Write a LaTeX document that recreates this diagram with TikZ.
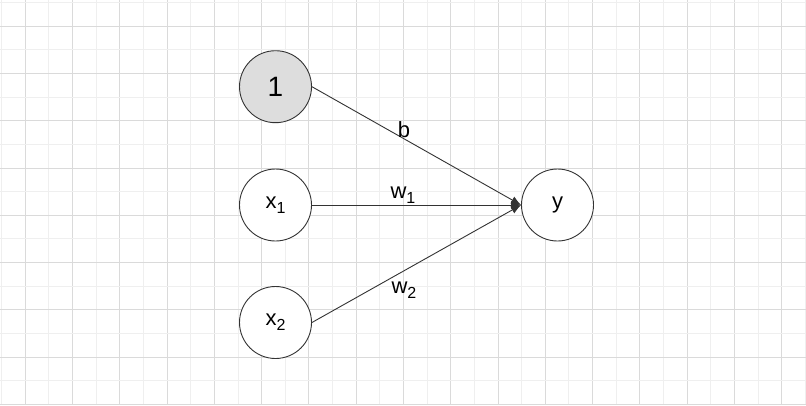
\documentclass[tikz,border=0pt]{standalone}
\usepackage{fontspec}
\setmainfont{Liberation Sans}
\usetikzlibrary{arrows.meta}
\definecolor{gridmajor}{HTML}{DADADA}
\definecolor{gridminor}{HTML}{EFEFEF}
\definecolor{edgecol}{HTML}{333333}
\definecolor{nodefill}{HTML}{DDDDDD}
\newcommand{\mysub}[1]{\raisebox{-5pt}{\fontsize{16}{16}\selectfont #1}}
\tikzset{
  neuron/.style={circle, draw=edgecol, line width=0.9pt, minimum size=72pt, inner sep=0pt, fill=white, font=\fontsize{22}{26}\selectfont},
  biasnode/.style={neuron, fill=nodefill, font=\fontsize{28}{32}\selectfont},
  conn/.style={draw=edgecol, line width=0.9pt, -{Latex[length=10pt,width=8pt]}},
  wlabel/.style={font=\fontsize{22}{26}\selectfont, inner sep=0pt, text=black}
}
\begin{document}
\begin{tikzpicture}[x=1pt,y=-1pt]
\useasboundingbox (0,0) rectangle (806,405);
\fill[white] (0,0) rectangle (806,405);
% grid
\foreach \k in {0,...,34}{
  \pgfmathsetmacro{\xx}{1.7+23.635*\k}
  \pgfmathtruncatemacro{\odd}{mod(\k,2)}
  \ifnum\odd=1
    \draw[gridmajor, line width=1pt] (\xx,0) -- (\xx,405);
  \else
    \draw[gridminor, line width=1pt] (\xx,0) -- (\xx,405);
  \fi
}
\foreach \k in {0,...,17}{
  \pgfmathsetmacro{\yy}{2.7+23.625*\k}
  \pgfmathtruncatemacro{\odd}{mod(\k,2)}
  \ifnum\odd=1
    \draw[gridmajor, line width=1pt] (0,\yy) -- (806,\yy);
  \else
    \draw[gridminor, line width=1pt] (0,\yy) -- (806,\yy);
  \fi
}
% nodes
\node[biasnode] (one) at (275.5,86.7) {1};
\node[neuron] (x1) at (275.5,205) {x\mysub{1}};
\node[neuron] (x2) at (275.5,322.5) {x\mysub{2}};
\node[neuron] (y) at (557.5,205) {y};
% connectors
\draw[conn] (one.east) -- (y.west);
\draw[conn] (x1.east) -- (y.west);
\draw[conn] (x2.east) -- (y.west);
% labels
\node[wlabel] (lb) at (404,130) {b};
\node[wlabel] (lw1) at (403,195) {w\mysub{1}};
\node[wlabel] (lw2) at (404,290) {w\mysub{2}};
\end{tikzpicture}
\end{document}
